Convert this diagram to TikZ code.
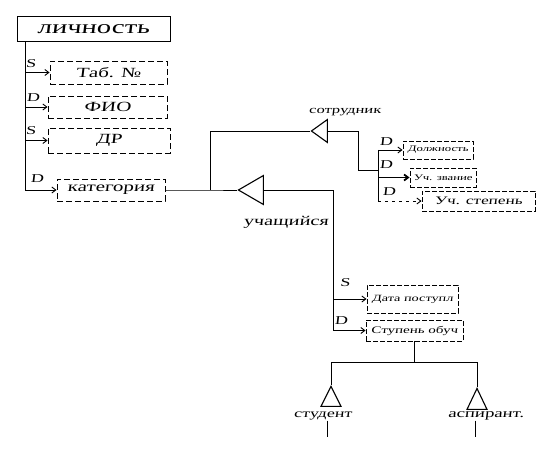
\documentclass[tikz,border=0pt]{standalone}
\usepackage{fontspec}
\setmainfont{Liberation Serif}
\newfontfamily\hand[FakeStretch=1.5,FakeSlant=0.12]{Liberation Serif}
\usetikzlibrary{shapes.geometric,arrows.meta}
\begin{document}
\begin{tikzpicture}[x=1pt,y=-1pt,line width=0.9pt,
  ent/.style={draw,line width=1pt,minimum width=153pt,minimum height=25pt,inner sep=0pt,font=\hand\fontsize{19}{19}\selectfont},
  attr/.style={draw,dashed,dash pattern=on 6pt off 3pt,inner sep=0pt,font=\hand\fontsize{14}{14}\selectfont},
  sattr/.style={draw,dashed,dash pattern=on 5pt off 2pt,inner sep=0pt,font=\hand\fontsize{8.5}{8.5}\selectfont},
  lbl/.style={font=\hand\fontsize{12}{12}\selectfont,inner sep=0pt},
  tlbl/.style={font=\hand\fontsize{13}{13}\selectfont,inner sep=0pt},
  arr/.style={-{Straight Barb[length=4pt,width=6pt]}},
  trileft/.style={isosceles triangle,isosceles triangle stretches,shape border rotate=180,draw,line width=1.1pt,inner sep=0pt,anchor=apex},
  triup/.style={isosceles triangle,isosceles triangle stretches,shape border rotate=90,draw,line width=1.1pt,inner sep=0pt,anchor=apex}]
\useasboundingbox (0,0) rectangle (545,449);
% entity
\node[ent] (lich) at (93.5,29.5) {личность};
% attributes of lichnost
\node[attr,minimum width=117pt,minimum height=23pt] (tab) at (108.5,72.5) {Таб. №\hspace{20pt}};
\node[attr,minimum width=119pt,minimum height=22pt] (fio) at (107.5,107) {ФИО};
\node[attr,minimum width=122pt,minimum height=25pt] (dr) at (109,140.5) {ДР};
\node[attr,minimum width=108pt,minimum height=22pt] (cat) at (111,190) {категория};
\coordinate (s1) at (25,72.5);
\coordinate (s2) at (25,107);
\coordinate (s3) at (25,140.5);
\coordinate (s4) at (25,190);
\draw (s4 |- lich.south) -- (s4);
\draw[arr] (s1) -- (tab.west);
\draw[arr] (s2) -- (fio.west);
\draw[arr] (s3) -- (dr.west);
\draw[arr] (s4) -- (cat.west);
\node[lbl] (ls1) at (31,64) {S};
\node[lbl] (ld2) at (33,98) {D};
\node[lbl] (ls3) at (31,131) {S};
\node[lbl] (ld4) at (37,179) {D};
% subtypes
\node[trileft,minimum height=25pt,minimum width=29pt] (tuch) at (237,190) {};
\node[trileft,minimum height=16pt,minimum width=23pt] (tsot) at (310,131) {};
\node[tlbl,font=\hand\fontsize{11}{11}\selectfont] (nsot) at (345,112) {сотрудник};
\node[tlbl,font=\hand\fontsize{13.5}{13.5}\selectfont] (nuch) at (286,222) {учащийся};
\coordinate (J) at (210,190);
\draw (cat.east) -- (J) -- (tuch.apex);
\draw (J) |- (tsot.apex);
% sotrudnik attributes
\node[sattr,minimum width=70pt,minimum height=18pt] (dol) at (438,150) {Должность};
\node[sattr,minimum width=66pt,minimum height=19pt] (zv) at (443,177.5) {Уч. звание};
\node[sattr,minimum width=113pt,minimum height=20pt,font=\hand\fontsize{11.5}{11.5}\selectfont] (stp) at (478.5,201) {Уч. степень};
\coordinate (c1) at (358,170);
\coordinate (r0) at (378,170);
\coordinate (r1) at (378,150);
\coordinate (r2) at (378,177.5);
\coordinate (r3) at (378,201);
\draw (tsot.lower side) -| (c1) -- (r0);
\draw (r1) -- (r3);
\draw[arr] (r1) -- (dol.west);
\draw[arr,line width=1.8pt] (r2) -- (zv.west);
\draw[arr,dashed,dash pattern=on 3pt off 4pt] (r3) -- (stp.west);
\node[lbl] (ld5) at (386,142) {D};
\node[lbl] (ld6) at (386,165) {D};
\node[lbl] (ld7) at (389,192) {D};
% uchashchiysya attributes
\node[sattr,minimum width=91pt,minimum height=28pt,font=\hand\fontsize{9.5}{9.5}\selectfont] (data) at (412.5,299) {Дата поступл};
\node[sattr,minimum width=97pt,minimum height=21pt,font=\hand\fontsize{10}{10}\selectfont] (stup) at (414.5,330.5) {Ступень обуч};
\coordinate (c2) at (333,190);
\coordinate (u1) at (333,299);
\coordinate (u2) at (333,330.5);
\draw (tuch.lower side) -- (c2) -- (u2);
\draw[arr] (u1) -- (data.west);
\draw[arr] (u2) -- (stup.west);
\node[lbl] (ls8) at (345,283) {S};
\node[lbl] (ld9) at (341,321) {D};
% lower hierarchy
\coordinate (h0) at (414.5,362);
\coordinate (hl) at (331,362);
\coordinate (hr) at (477,362);
\draw (stup.south) -- (h0);
\draw (hl) -- (hr);
\node[triup,minimum height=20pt,minimum width=20pt] (tst) at (331,385) {};
\node[triup,minimum height=21pt,minimum width=20pt] (tas) at (477,387) {};
\draw (hl) -- (tst.apex);
\draw (hr) -- (tas.apex);
\node[tlbl,font=\hand\fontsize{12}{12}\selectfont] (nst) at (323,416) {студент};
\node[tlbl,font=\hand\fontsize{12.5}{12.5}\selectfont] (nas) at (486,416) {аспирант.};
\coordinate (e1) at (327,437);
\coordinate (e2) at (475,437);
\draw (nst.south -| e1) -- (e1);
\draw (nas.south -| e2) -- (e2);
\end{tikzpicture}
\end{document}
